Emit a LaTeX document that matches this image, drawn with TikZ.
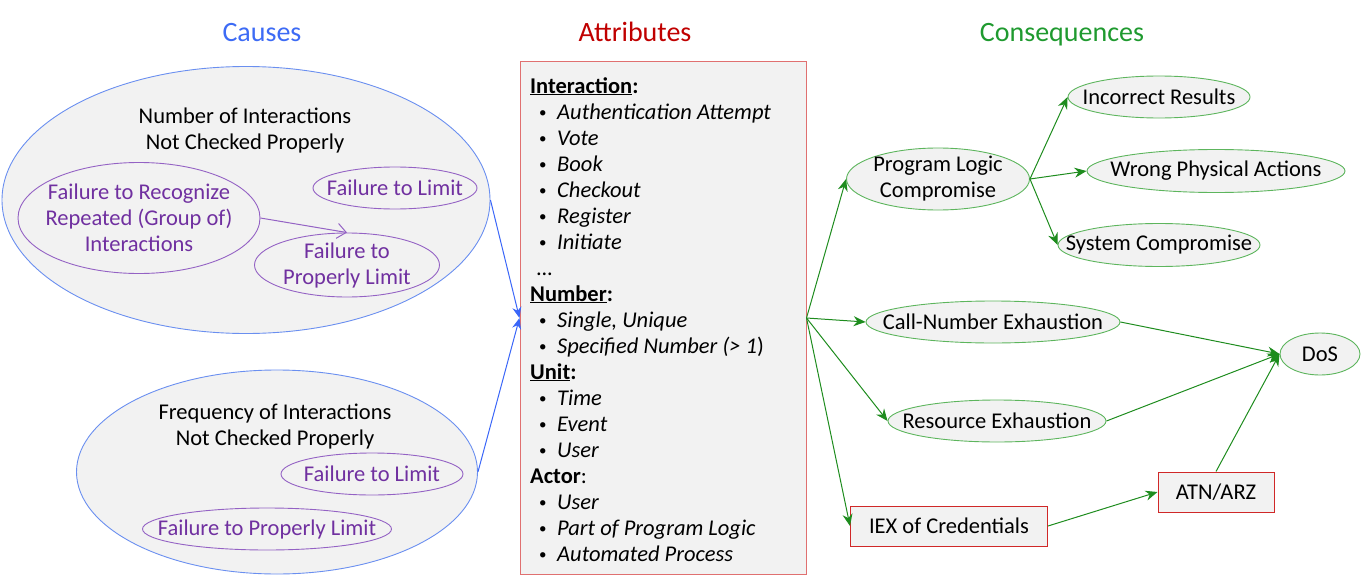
\documentclass[tikz,border=0pt]{standalone}
\usepackage{fontspec}
\setmainfont{Carlito}
\usetikzlibrary{shapes.geometric}
\usetikzlibrary{arrows.meta}
\definecolor{causeblue}{HTML}{3D6BF5}
\definecolor{causeln}{HTML}{6A8FF0}
\definecolor{causearr}{HTML}{3A66F8}
\definecolor{failtx}{HTML}{7030A0}
\definecolor{failln}{HTML}{9462C4}
\definecolor{attrred}{HTML}{C00000}
\definecolor{attrln}{HTML}{E07070}
\definecolor{boxred}{HTML}{D02828}
\definecolor{consgreen}{HTML}{1F9A2F}
\definecolor{consln}{HTML}{5DB55D}
\definecolor{consarr}{HTML}{1E8C1E}
\definecolor{boxfill}{HTML}{F2F2F2}
\newcommand{\itm}[1]{\hspace*{9pt}\makebox[18pt][l]{\raisebox{2pt}{\fontsize{15}{15}\selectfont\textbullet}}\textit{#1}}
\newcommand{\hdr}[1]{\underline{\textbf{#1}}\textbf{:}}
\tikzset{
    bigell/.style = {ellipse, draw=causeln, fill=boxfill, line width=0.9pt, inner sep=0pt},
    failell/.style = {ellipse, draw=failln, line width=0.9pt, inner sep=0pt,
        label={[align=center,text=failtx]center:#1}},
    consell/.style = {ellipse, draw=consln, fill=boxfill, line width=0.9pt, inner sep=0pt,
        label={[align=center]center:#1}},
    consbox/.style = {rectangle, draw=boxred, fill=boxfill, line width=1pt, inner sep=0pt},
    title/.style = {font=\fontsize{28}{32}\selectfont},
    edgeb/.style = {-{Stealth[length=11pt,width=9pt]}, line width=1pt, causearr},
    edgep/.style = {-{Straight Barb[length=9pt,width=15pt]}, line width=1pt, failln},
    edgeg/.style = {-{Stealth[length=12pt,width=10pt]}, line width=1pt, consarr}
}
\begin{document}
\begin{tikzpicture}[x=1pt,y=-1pt,font=\fontsize{22.5}{26}\selectfont]
\path[use as bounding box] (0,0) rectangle (1362,578);
%
\node[title,text=causeblue] at (262,33) (tcause) {Causes};
\node[title,text=attrred] at (635,32) (tattr) {Attributes};
\node[title,text=consgreen] at (1062,35) (tcons) {Consequences};
% causes
\node[bigell,minimum width=488pt,minimum height=267pt] at (246,200) (numint) {};
\node[align=center] at (245,131) (numtxt) {Number of Interactions\\Not Checked Properly};
\node[failell={Failure to Recognize\\Repeated (Group of)\\Interactions},minimum width=242pt,minimum height=111pt] at (139,218) (recog) {};
\node[failell={Failure to Limit},minimum width=164pt,minimum height=42pt] at (395,188) (lim1) {};
\node[failell={Failure to\\Properly Limit},minimum width=185pt,minimum height=64pt] at (347,265) (plim1) {};
\node[bigell,minimum width=401pt,minimum height=204pt] at (277,472) (freqint) {};
\node[align=center] at (275,427) (freqtxt) {Frequency of Interactions\\Not Checked Properly};
\node[failell={Failure to Limit},minimum width=182pt,minimum height=42pt] at (372,474) (lim2) {};
\node[failell={Failure to Properly Limit},minimum width=249pt,minimum height=42pt] at (267,529) (plim2) {};
% attributes
\node[rectangle,draw=attrln,fill=boxfill,line width=1pt,minimum width=286pt,minimum height=512pt] at (663,318) (attr) {};
\node[anchor=north west,align=left,inner sep=0pt] at (530,77) (attrlist) {%
\hdr{Interaction}\\
\itm{Authentication Attempt}\\
\itm{Vote}\\
\itm{Book}\\
\itm{Checkout}\\
\itm{Register}\\
\itm{Initiate}\\
\hspace*{7pt}\textit{…}\\
\hdr{Number}\\
\itm{Single, Unique}\\
\itm{Specified Number (> 1})\\
\hdr{Unit}\\
\itm{Time}\\
\itm{Event}\\
\itm{User}\\
\textbf{Actor}:\\
\itm{User}\\
\itm{Part of Program Logic}\\
\itm{Automated Process}};
% consequences
\node[consell={Program Logic\\Compromise},minimum width=183pt,minimum height=62pt] at (938,179) (plc) {};
\node[consell={Incorrect Results},minimum width=182pt,minimum height=42pt] at (1159,97) (incorr) {};
\node[consell={Wrong Physical Actions},minimum width=258pt,minimum height=43pt] at (1216,171) (wrong) {};
\node[consell={System Compromise},minimum width=202pt,minimum height=43pt] at (1159,245) (syscomp) {};
\node[consell={Call-Number Exhaustion},minimum width=254pt,minimum height=42pt] at (993,322) (callnum) {};
\node[consell={Resource Exhaustion},minimum width=218pt,minimum height=42pt] at (997,421) (resexh) {};
\node[consell={DoS},minimum width=80pt,minimum height=42pt] at (1320,354) (dos) {};
\node[consbox,minimum width=197pt,minimum height=40pt] at (949,526) (iex) {IEX of Credentials};
\node[consbox,minimum width=116pt,minimum height=40pt] at (1216,492) (atn) {ATN/ARZ};
%
\draw[edgep] (recog.east) -- (plim1.north);
\draw[edgeb] (numint.east) -- (attr.west);
\draw[edgeb] (freqint.east) -- (attr.west);
\draw[edgeg] (attr.east) -- (plc.west);
\draw[edgeg] (attr.east) -- (callnum.west);
\draw[edgeg] (attr.east) -- (resexh.west);
\draw[edgeg] (attr.east) -- (iex.west);
\draw[edgeg] (plc.east) -- (incorr.west);
\draw[edgeg] (plc.east) -- (wrong.west);
\draw[edgeg] (plc.east) -- (syscomp.west);
\draw[edgeg] (callnum.east) -- (dos.west);
\draw[edgeg] (resexh.east) -- (dos.west);
\draw[edgeg] (atn.north) -- (dos.west);
\draw[edgeg] (iex.east) -- (atn.west);
\end{tikzpicture}
\end{document}
